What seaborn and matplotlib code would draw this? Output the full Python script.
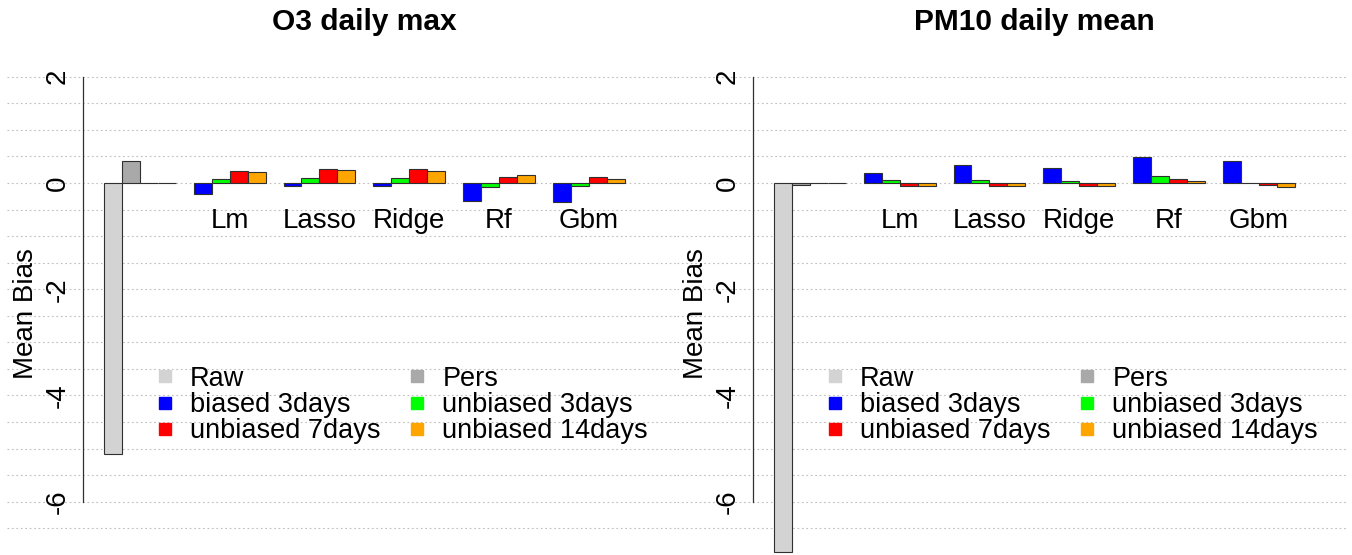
import numpy as np
import pandas as pd
import matplotlib
matplotlib.use("Agg")
import matplotlib.pyplot as plt
from matplotlib.lines import Line2D
import seaborn as sns

# --- datos ---
groups = ["", "Lm", "Lasso", "Ridge", "Rf", "Gbm"]
ref_names = ["Raw", "Pers"]
model_names = ["biased 3days", "unbiased 3days", "unbiased 7days", "unbiased 14days"]
colors = {"Raw": "#D3D3D3", "Pers": "#A9A9A9", "pad": "#FFFFFF",
          "biased 3days": "#0000FF", "unbiased 3days": "#00FF00",
          "unbiased 7days": "#FF0000", "unbiased 14days": "#FFA500"}

o3_ref = [-5.10, 0.42]
o3_biased3 = [-0.21, -0.065, -0.065, -0.34, -0.36]
o3_unbiased3 = [0.08, 0.095, 0.095, -0.08, -0.05]
o3_unbiased7 = [0.23, 0.255, 0.27, 0.12, 0.12]
o3_unbiased14 = [0.21, 0.24, 0.235, 0.145, 0.08]

pm10_ref = [-6.95, -0.045]
pm10_biased3 = [0.18, 0.33, 0.29, 0.49, 0.42]
pm10_unbiased3 = [0.058, 0.058, 0.045, 0.14, 0.0]
pm10_unbiased7 = [-0.05, -0.058, -0.05, 0.083, -0.04]
pm10_unbiased14 = [-0.064, -0.064, -0.064, 0.045, -0.077]

yticks = [-6, -4, -2, 0, 2]
titles = ["O3 daily max", "PM10 daily mean"]


def long_table(ref, b3, u3, u7, u14):
    # posiciones como en barplot(beside=TRUE) de R: barras de ancho 1, hueco 1
    rows = []
    first = ref + [0.0, 0.0]
    names = ref_names + ["pad", "pad"]
    for s in range(4):
        rows.append({"pos": 1.5 + s, "value": first[s], "series": names[s]})
    model = [b3, u3, u7, u14]
    for g in range(1, len(groups)):
        for s, name in enumerate(model_names):
            rows.append({"pos": 1.5 + 5 * g + s, "value": model[s][g - 1], "series": name})
    return pd.DataFrame(rows)


tables = [long_table(o3_ref, o3_biased3, o3_unbiased3, o3_unbiased7, o3_unbiased14),
          long_table(pm10_ref, pm10_biased3, pm10_unbiased3, pm10_unbiased7, pm10_unbiased14)]

# --- estilo ---
sns.set_style("white")
plt.rcParams["font.family"] = ["Liberation Sans", "DejaVu Sans"]
plt.rcParams["axes.unicode_minus"] = False
plt.rcParams["text.color"] = "black"
plt.rcParams["ytick.labelcolor"] = "black"

W, H = 1352, 555
fig = plt.figure(figsize=(W / 100, H / 100), dpi=100)

unit = 17.95          # px por barra
y0, yscale = 183.0, 53.1
ax_top = 40
panel_off = 670
hue_order = ref_names + ["pad"] + model_names
leg_fs = 19.5
leg_em = leg_fs * 100 / 72

for i, df in enumerate(tables):
    off = i * panel_off
    left_px, right_px = 7 + off, 676 + off + i
    bar0 = 104 + off
    ax = fig.add_axes([left_px / W, 0, (right_px - left_px) / W, (H - ax_top) / H])
    ax.patch.set_alpha(0)

    for v in np.arange(-6.5, 2.01, 0.5):
        ax.axhline(v, color="#BEBEBE", lw=0.8, ls=(0, (1.5, 2.5)), zorder=0)

    sns.barplot(data=df, x="pos", y="value", hue="series", hue_order=hue_order,
                palette=colors, saturation=1, native_scale=True, dodge=False, width=1,
                errorbar=None, edgecolor="#303030", linewidth=0.8,
                legend=False, ax=ax, zorder=3)

    ax.set_xlim(1 - (bar0 - left_px) / unit, 1 + (right_px - bar0) / unit)
    ax.set_ylim(-(H - y0) / yscale, (y0 - ax_top) / yscale)
    ax.set_xlabel("")
    ax.set_ylabel("")
    ax.set_xticks([])

    for s in ["top", "right", "bottom"]:
        ax.spines[s].set_visible(False)
    ax.spines["left"].set_position(("data", 1 - 29 * 0.04))
    ax.spines["left"].set_bounds(-6, 2)
    ax.spines["left"].set_color("#303030")
    ax.spines["left"].set_linewidth(0.9)
    ax.set_yticks(yticks)
    ax.set_yticklabels([str(t) for t in yticks])
    ax.tick_params(axis="y", length=5, width=0.9, color="#303030", pad=13.5, labelsize=20)
    plt.setp(ax.get_yticklabels(), rotation=90, ha="center", va="center")

    for g in range(1, len(groups)):
        ax.text(3 + 5 * g, -0.85, groups[g], ha="center", va="baseline", fontsize=20)

    handles = {n: Line2D([], [], marker="s", ls="", markersize=8.6,
                         color=colors[n], label=n) for n in ref_names + model_names}
    order = ["Raw", "biased 3days", "unbiased 7days", "Pers", "unbiased 3days", "unbiased 14days"]
    ax.legend(handles=[handles[n] for n in order], ncol=2, frameon=False, fontsize=leg_fs,
              loc="center left", bbox_to_anchor=((152.5 + off) / W, 1 - 405 / H),
              bbox_transform=fig.transFigure, borderpad=0, borderaxespad=0,
              handlelength=25 / leg_em, handletextpad=12.5 / leg_em,
              columnspacing=0.9, labelspacing=0.01)

    fig.text((364.6 + off) / W, 1 - 30 / H, titles[i], ha="center", va="baseline",
             fontsize=21.5, fontweight="bold")
    fig.text((26 + off) / W, 1 - 314 / H, "Mean Bias", rotation=90,
             ha="center", va="center", fontsize=20)

fig.savefig("out.png", dpi=100)
